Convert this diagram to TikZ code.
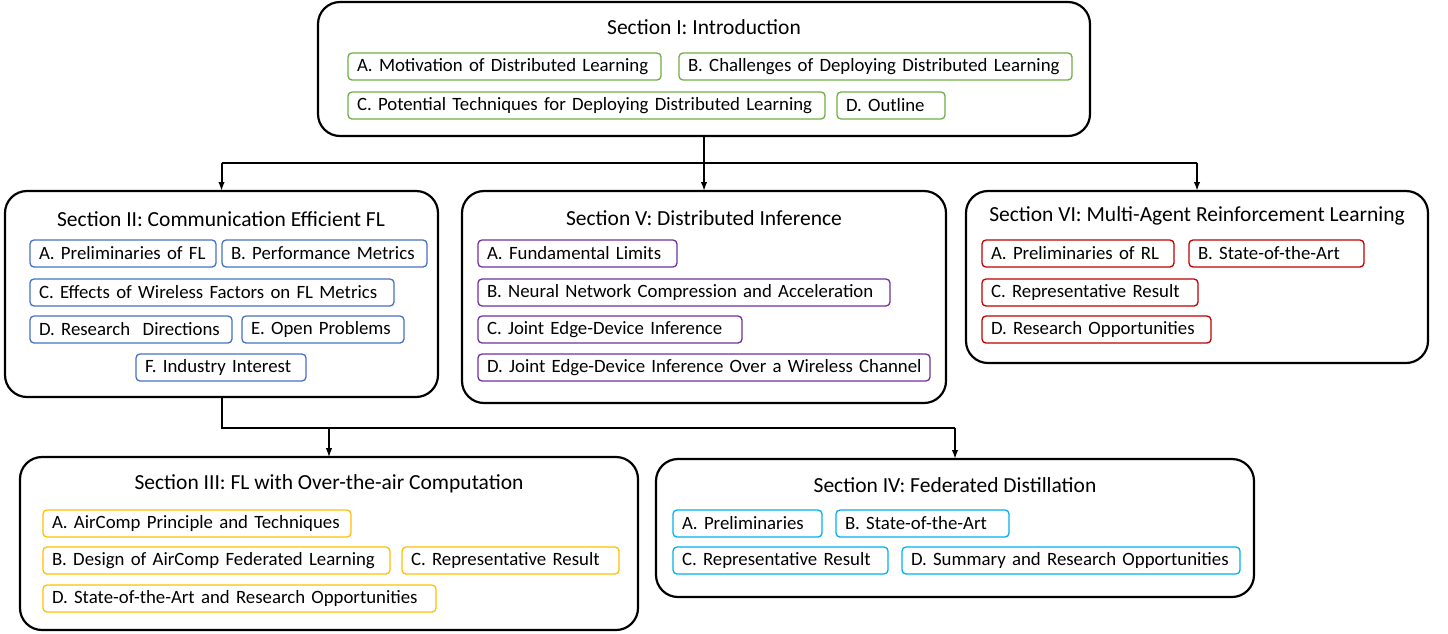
\documentclass[tikz,border=0pt]{standalone}
\usepackage{fontspec}
\setmainfont{Carlito}
\usetikzlibrary{arrows.meta,positioning}
\definecolor{cgreen}{HTML}{70AD47}
\definecolor{cblue}{HTML}{4472C4}
\definecolor{cpurple}{HTML}{7030A0}
\definecolor{cred}{HTML}{C00000}
\definecolor{cyellow}{HTML}{FFC000}
\definecolor{ccyan}{HTML}{00B0F0}
\tikzset{
  secbox/.style={draw=black, line width=2.2pt, rounded corners=22pt, anchor=north west, inner sep=0pt, outer sep=0pt},
  sectitle/.style={font=\fontsize{21.5}{23}\selectfont, inner sep=0pt, anchor=center},
  sub/.style={draw=#1, line width=1.3pt, rounded corners=4pt, anchor=north west, outer sep=0pt,
     inner xsep=9pt, inner ysep=0pt, align=left, font=\fontsize{18.8}{20}\selectfont},
  conn/.style={line width=2pt, draw=black},
  arr/.style={line width=2pt, draw=black, -{Latex[length=9pt,width=6.5pt]}},
  thinarr/.style={line width=1.1pt, draw=black, -{Latex[length=9pt,width=6.5pt]}},
}
\newcommand{\subbox}[7]{% name, color, x1, y1, x2, y2, text
  \pgfmathsetmacro\mytw{#5-#3-18}\pgfmathsetmacro\myh{#6-#4}%
  \node[sub=#2, text width=\mytw pt, minimum height=\myh pt] (#1) at (#3,#4) {\mbox{#7}};}
\begin{document}
\begin{tikzpicture}[x=1pt,y=-1pt]
\useasboundingbox (0,0) rectangle (1448,633);
% Section boxes
\node[secbox, minimum width=772pt, minimum height=134pt] (s1) at (318,2) {};
\node[secbox, minimum width=433pt, minimum height=206pt] (s2) at (5,191) {};
\node[secbox, minimum width=484pt, minimum height=212pt] (s5) at (462,191) {};
\node[secbox, minimum width=462pt, minimum height=172pt] (s6) at (966,191) {};
\node[secbox, minimum width=618pt, minimum height=173pt] (s3) at (20,457) {};
\node[secbox, minimum width=598pt, minimum height=138pt] (s4) at (656,459) {};
% Titles
\node[sectitle] (t1) at (704,27) {Section I: Introduction};
\node[sectitle] (t2) at (221,219) {Section II: Communication Efficient FL};
\node[sectitle] (t5) at (704,218) {Section V: Distributed Inference};
\node[sectitle] (t6) at (1197,216) {Section VI: Multi-Agent Reinforcement Learning};
\node[sectitle] (t3) at (329,484) {Section III: FL with Over-the-air Computation};
\node[sectitle] (t4) at (955,485) {Section IV: Federated Distillation};
% Section I items
\subbox{i1a}{cgreen}{348}{53}{661}{80}{A. Motivation of Distributed Learning}
\subbox{i1b}{cgreen}{679}{53}{1072}{80}{B. Challenges of Deploying Distributed Learning}
\subbox{i1c}{cgreen}{348}{92}{825}{119}{C. Potential Techniques for Deploying Distributed Learning}
\subbox{i1d}{cgreen}{837}{92}{945}{119}{D. Outline}
% Section II items
\subbox{i2a}{cblue}{30}{240}{216}{267}{A. Preliminaries of FL}
\subbox{i2b}{cblue}{222}{240}{427}{267}{B. Performance Metrics}
\subbox{i2c}{cblue}{30}{279}{394}{306}{C. Effects of Wireless Factors on FL Metrics}
\subbox{i2d}{cblue}{30}{316}{232}{343}{D. Research\ \ Directions}
\subbox{i2e}{cblue}{242}{316}{404}{343}{E. Open Problems}
\subbox{i2f}{cblue}{136}{354}{306}{381}{F. Industry Interest}
% Section V items
\subbox{i5a}{cpurple}{478}{240}{677}{267}{A. Fundamental Limits}
\subbox{i5b}{cpurple}{478}{279}{890}{306}{B. Neural Network Compression and Acceleration}
\subbox{i5c}{cpurple}{478}{316}{742}{343}{C. Joint Edge-Device Inference}
\subbox{i5d}{cpurple}{478}{354}{930}{381}{D. Joint Edge-Device Inference Over a Wireless Channel}
% Section VI items
\subbox{i6a}{cred}{982}{240}{1174}{267}{A. Preliminaries of RL}
\subbox{i6b}{cred}{1189}{240}{1364}{267}{B. State-of-the-Art}
\subbox{i6c}{cred}{982}{279}{1198}{306}{C. Representative Result}
\subbox{i6d}{cred}{982}{316}{1211}{343}{D. Research Opportunities}
% Section III items
\subbox{i3a}{cyellow}{43}{510}{351}{537}{A. AirComp Principle and Techniques}
\subbox{i3b}{cyellow}{43}{547}{390}{574}{B. Design of AirComp Federated Learning}
\subbox{i3c}{cyellow}{402}{547}{619}{574}{C. Representative Result}
\subbox{i3d}{cyellow}{43}{585}{436}{612}{D. State-of-the-Art and Research Opportunities}
% Section IV items
\subbox{i4a}{ccyan}{673}{510}{822}{537}{A. Preliminaries}
\subbox{i4b}{ccyan}{836}{510}{1009}{537}{B. State-of-the-Art}
\subbox{i4c}{ccyan}{673}{547}{888}{574}{C. Representative Result}
\subbox{i4d}{ccyan}{902}{547}{1240}{574}{D. Summary and Research Opportunities}
% Connectors
\coordinate (j1) at (704,163);
\coordinate (jL) at (221.5,163);
\coordinate (jR) at (1197,163);
\draw[conn] (s1.south) -- (j1);
\draw[conn] (jL) -- (jR);
\draw[arr] (jL) -- (jL |- s2.north);
\draw[arr] (j1) -- (j1 |- s5.north);
\draw[arr] (jR) -- (jR |- s6.north);
\coordinate (j2) at (221.5,428);
\coordinate (j3) at (329,428);
\coordinate (j4) at (955,428);
\draw[conn] (s2.south) -- (j2) -- (j4);
\draw[thinarr] (j3) -- (s3.north);
\draw[arr] (j4) -- (s4.north);
\end{tikzpicture}
\end{document}
